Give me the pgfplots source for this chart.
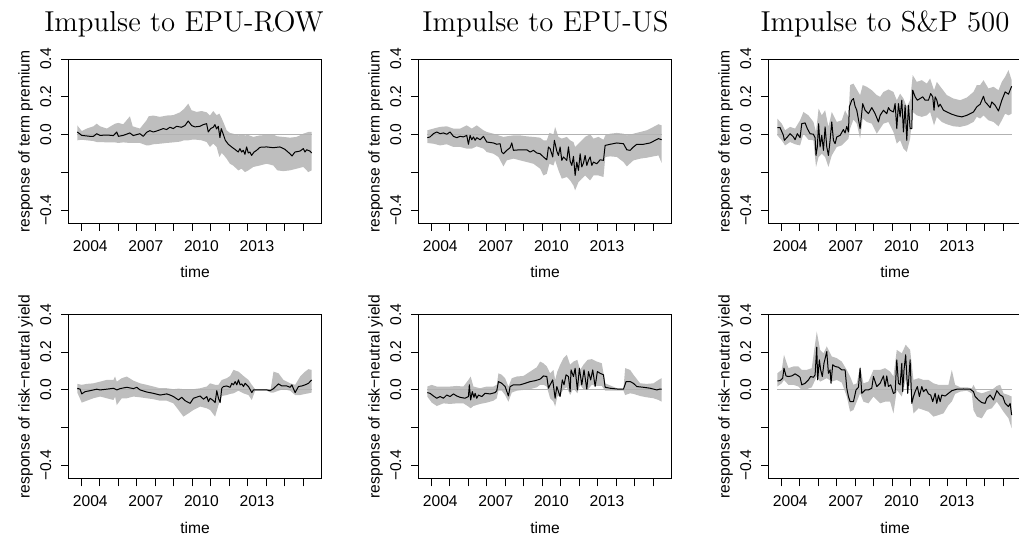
\documentclass[border=0pt]{standalone}
\usepackage{fontspec}
\setsansfont{Liberation Sans}
\usepackage{pgfplots}
\pgfplotsset{compat=1.18}
\usepackage{pgfplotstable}
\usepgfplotslibrary{fillbetween}
\definecolor{bandgray}{RGB}{190,190,190}
\definecolor{zerogray}{RGB}{178,178,178}

% ---------- Panel A: EPU-ROW -> term premium
\pgfplotstableread{
t m
2003.80 0.014
2004.04 -0.004
2004.31 -0.007
2004.49 -0.009
2004.67 -0.009
2004.85 0.005
2005.03 -0.004
2005.39 -0.002
2005.75 -0.005
2005.93 0.014
2006.02 -0.009
2006.28 -0.004
2006.64 0.009
2006.82 -0.005
2007.18 0.005
2007.36 -0.009
2007.54 0.012
2007.72 0.021
2007.90 0.014
2008.08 0.019
2008.44 0.032
2008.62 0.027
2008.80 0.039
2008.98 0.032
2009.16 0.044
2009.43 0.039
2009.61 0.048
2009.79 0.072
2009.97 0.048
2010.15 0.041
2010.42 0.044
2010.60 0.053
2010.78 0.058
2010.87 0.014
2011.00 0.032
2011.14 0.039
2011.23 0.053
2011.32 0.030
2011.41 0.044
2011.50 -0.016
2011.57 0.032
2011.68 0.002
2011.79 -0.030
2011.95 -0.051
2012.13 -0.065
2012.31 -0.078
2012.49 -0.092
2012.58 -0.074
2012.67 -0.092
2012.76 -0.083
2012.85 -0.104
2012.94 -0.065
2013.03 -0.097
2013.12 -0.092
2013.21 -0.110
2013.34 -0.092
2013.48 -0.083
2013.66 -0.067
2014.02 -0.065
2014.38 -0.069
2014.74 -0.065
2015.01 -0.078
2015.28 -0.101
2015.39 -0.113
2015.55 -0.092
2015.82 -0.087
2016.00 -0.074
2016.09 -0.092
2016.18 -0.080
2016.36 -0.087
2016.45 -0.097
}\meanA
\pgfplotstableread{
t lo hi
2003.80 -0.030 0.049
2004.04 -0.027 0.019
2004.31 -0.030 0.032
2004.67 -0.034 0.044
2004.85 -0.039 0.058
2005.03 -0.039 0.044
2005.39 -0.041 0.032
2005.84 -0.041 0.058
2006.02 -0.044 0.062
2006.28 -0.041 0.055
2006.64 -0.044 0.097
2006.79 -0.044 0.044
2007.18 -0.044 0.032
2007.54 -0.057 0.076
2007.65 -0.057 0.097
2007.90 -0.051 0.101
2008.26 -0.048 0.094
2008.62 -0.044 0.101
2008.98 -0.041 0.103
2009.34 -0.037 0.118
2009.56 -0.030 0.136
2009.79 -0.030 0.164
2009.97 -0.027 0.129
2010.24 -0.027 0.120
2010.51 -0.030 0.125
2010.78 -0.039 0.118
2010.96 -0.065 0.101
2011.14 -0.048 0.125
2011.32 -0.065 0.103
2011.47 -0.118 0.111
2011.60 -0.097 0.085
2011.72 -0.110 0.058
2011.86 -0.127 0.023
2012.04 -0.154 0.009
2012.22 -0.164 0.005
2012.49 -0.189 -0.004
2012.67 -0.180 0.002
2012.85 -0.198 -0.004
2013.03 -0.189 -0.002
2013.30 -0.171 -0.012
2013.66 -0.163 -0.004
2014.02 -0.154 -0.002
2014.38 -0.163 0.000
2014.60 -0.189 -0.009
2014.92 -0.193 -0.012
2015.28 -0.189 -0.016
2015.64 -0.180 -0.012
2016.00 -0.171 0.005
2016.27 -0.198 0.014
2016.45 -0.189 0.014
}\bandA

% ---------- Panel B: EPU-US -> term premium
\pgfplotstableread{
t m
2003.80 -0.016
2003.95 -0.012
2004.13 0.005
2004.31 0.014
2004.49 0.005
2004.67 0.009
2004.85 0.002
2005.03 0.014
2005.21 -0.009
2005.39 -0.016
2005.57 -0.009
2005.75 -0.012
2005.93 -0.004
2006.02 -0.051
2006.11 -0.004
2006.20 -0.027
2006.29 -0.012
2006.38 -0.030
2006.47 -0.016
2006.65 -0.027
2006.83 -0.009
2007.01 -0.039
2007.37 -0.044
2007.55 -0.051
2007.73 -0.048
2007.82 -0.092
2007.91 -0.101
2008.09 -0.083
2008.27 -0.069
2008.36 -0.044
2008.45 -0.083
2008.81 -0.080
2009.17 -0.080
2009.35 -0.092
2009.53 -0.083
2009.71 -0.097
2009.89 -0.101
2010.07 -0.118
2010.25 -0.133
2010.34 -0.065
2010.43 -0.074
2010.57 -0.118
2010.66 -0.030
2010.79 -0.087
2010.88 -0.110
2010.97 -0.065
2011.06 -0.136
2011.15 -0.118
2011.33 -0.136
2011.42 -0.065
2011.51 -0.140
2011.60 -0.163
2011.69 -0.115
2011.78 -0.216
2011.87 -0.145
2011.96 -0.189
2012.05 -0.101
2012.14 -0.171
2012.23 -0.150
2012.32 -0.110
2012.41 -0.163
2012.50 -0.136
2012.59 -0.118
2012.68 -0.163
2012.77 -0.145
2012.95 -0.154
2013.13 -0.133
2013.31 -0.136
2013.40 -0.057
2013.67 -0.051
2014.03 -0.044
2014.39 -0.048
2014.57 -0.080
2014.75 -0.083
2014.93 -0.065
2015.11 -0.051
2015.47 -0.051
2015.83 -0.044
2016.10 -0.030
2016.28 -0.021
2016.45 -0.027
}\meanB
\pgfplotstableread{
t lo hi
2003.80 -0.044 0.023
2004.13 -0.048 0.032
2004.49 -0.057 0.041
2004.85 -0.051 0.044
2005.21 -0.065 0.032
2005.57 -0.065 0.032
2005.93 -0.074 0.049
2006.20 -0.074 0.032
2006.47 -0.062 0.049
2006.83 -0.074 0.023
2007.01 -0.092 0.014
2007.37 -0.101 0.005
2007.64 -0.118 -0.004
2007.91 -0.168 -0.012
2008.09 -0.136 -0.009
2008.45 -0.127 -0.004
2008.81 -0.136 -0.004
2009.17 -0.145 -0.009
2009.53 -0.154 -0.012
2009.89 -0.180 -0.016
2010.07 -0.216 -0.030
2010.25 -0.207 -0.030
2010.39 -0.154 0.009
2010.61 -0.163 0.002
2010.70 -0.136 0.041
2010.88 -0.189 -0.012
2011.06 -0.233 -0.021
2011.33 -0.224 -0.012
2011.51 -0.242 -0.030
2011.69 -0.269 -0.039
2011.78 -0.295 -0.065
2011.96 -0.251 -0.048
2012.14 -0.233 -0.030
2012.32 -0.216 -0.012
2012.59 -0.242 0.002
2012.77 -0.216 -0.021
2013.04 -0.216 -0.012
2013.31 -0.224 -0.027
2013.41 -0.118 -0.004
2013.67 -0.115 0.005
2014.03 -0.118 0.009
2014.39 -0.145 0.005
2014.57 -0.168 -0.004
2014.93 -0.136 0.005
2015.29 -0.127 0.014
2015.65 -0.122 0.023
2016.01 -0.115 0.041
2016.28 -0.110 0.055
2016.45 -0.150 0.049
}\bandB

% ---------- Panel C: S&P 500 -> term premium
\pgfplotstableread{
t m
2003.80 0.037
2003.95 0.037
2004.13 -0.004
2004.18 -0.030
2004.31 -0.016
2004.49 0.005
2004.67 -0.012
2004.76 -0.027
2004.88 0.005
2005.03 -0.016
2005.12 0.058
2005.30 0.062
2005.42 0.032
2005.57 0.005
2005.75 0.002
2005.84 -0.016
2005.89 -0.110
2005.96 -0.065
2006.03 0.058
2006.11 -0.065
2006.20 -0.004
2006.29 -0.083
2006.38 0.041
2006.47 -0.065
2006.56 -0.110
2006.65 -0.030
2006.74 0.067
2006.83 -0.030
2006.92 -0.048
2007.01 -0.012
2007.19 -0.004
2007.37 0.027
2007.46 0.009
2007.55 0.044
2007.64 0.014
2007.69 0.147
2007.82 0.182
2007.91 0.191
2008.00 0.150
2008.09 0.129
2008.27 0.032
2008.41 0.164
2008.54 0.129
2008.72 0.111
2008.90 0.143
2009.08 0.111
2009.26 0.067
2009.35 0.102
2009.53 0.129
2009.71 0.111
2009.80 0.143
2009.89 0.129
2010.07 0.120
2010.16 0.164
2010.25 0.032
2010.34 0.164
2010.43 0.094
2010.52 0.182
2010.61 0.014
2010.70 0.155
2010.79 -0.030
2010.88 0.155
2010.97 0.032
2011.06 0.032
2011.11 0.235
2011.24 0.200
2011.36 0.182
2011.51 0.191
2011.65 0.200
2011.78 0.182
2011.96 0.182
2012.08 0.217
2012.19 0.200
2012.26 0.129
2012.32 0.200
2012.41 0.182
2012.50 0.147
2012.59 0.161
2012.77 0.129
2012.95 0.120
2013.22 0.108
2013.49 0.099
2013.76 0.094
2014.03 0.102
2014.21 0.111
2014.39 0.120
2014.57 0.147
2014.75 0.161
2014.93 0.203
2015.02 0.173
2015.11 0.164
2015.29 0.143
2015.38 0.173
2015.56 0.155
2015.74 0.125
2015.92 0.182
2016.10 0.226
2016.28 0.214
2016.45 0.256
}\meanC
\pgfplotstableread{
t lo hi
2003.80 -0.004 0.085
2004.04 -0.030 0.058
2004.22 -0.057 0.023
2004.49 -0.039 0.041
2004.76 -0.051 0.032
2005.03 -0.057 0.076
2005.21 0.005 0.120
2005.48 -0.027 0.102
2005.75 -0.030 0.067
2005.89 -0.171 0.014
2006.03 -0.118 0.138
2006.20 -0.101 0.102
2006.38 -0.118 0.129
2006.56 -0.171 0.041
2006.74 -0.110 0.120
2007.01 -0.065 0.067
2007.28 -0.057 0.076
2007.46 -0.039 0.129
2007.64 -0.021 0.094
2007.73 0.032 0.262
2007.91 0.080 0.270
2008.09 0.058 0.239
2008.27 -0.021 0.209
2008.41 0.085 0.262
2008.63 0.067 0.253
2008.90 0.058 0.235
2009.17 0.005 0.209
2009.35 0.032 0.200
2009.53 0.058 0.226
2009.80 0.067 0.239
2010.07 0.014 0.226
2010.25 -0.048 0.182
2010.43 -0.030 0.217
2010.61 -0.074 0.191
2010.79 -0.092 0.147
2010.97 -0.021 0.182
2011.11 0.120 0.315
2011.33 0.102 0.279
2011.60 0.094 0.288
2011.87 0.102 0.270
2012.05 0.120 0.297
2012.26 0.049 0.235
2012.41 0.094 0.279
2012.68 0.067 0.244
2012.95 0.055 0.209
2013.31 0.044 0.191
2013.67 0.041 0.182
2014.03 0.049 0.196
2014.39 0.067 0.226
2014.57 0.094 0.262
2014.75 0.085 0.262
2014.93 0.102 0.288
2015.20 0.076 0.244
2015.47 0.067 0.253
2015.74 0.044 0.235
2015.92 0.076 0.279
2016.10 0.111 0.306
2016.28 0.102 0.341
2016.45 0.111 0.288
}\bandC

% ---------- Panel D: EPU-ROW -> risk-neutral yield
\pgfplotstableread{
t m
2003.80 0.009
2003.95 0.004
2004.04 -0.021
2004.22 -0.009
2004.49 -0.004
2004.85 0.004
2005.03 0.000
2005.39 0.004
2005.75 0.009
2005.93 0.000
2006.11 0.007
2006.47 0.014
2006.83 0.007
2007.01 0.014
2007.19 0.000
2007.55 -0.011
2007.91 -0.018
2008.27 -0.027
2008.63 -0.021
2008.81 -0.027
2008.99 -0.035
2009.26 -0.053
2009.44 -0.039
2009.62 -0.057
2009.89 -0.071
2010.07 -0.044
2010.43 -0.032
2010.61 -0.049
2010.79 -0.035
2010.88 -0.062
2010.97 -0.044
2011.15 -0.057
2011.24 -0.067
2011.33 -0.004
2011.42 -0.044
2011.51 -0.067
2011.60 0.009
2011.69 0.018
2011.87 0.021
2012.05 0.014
2012.14 0.035
2012.23 0.027
2012.32 0.044
2012.41 0.027
2012.50 0.053
2012.59 0.027
2012.68 0.032
2012.77 0.018
2012.86 0.035
2013.04 0.018
2013.22 -0.014
2013.31 0.000
2013.58 0.000
2014.03 0.000
2014.21 -0.004
2014.39 0.007
2014.66 0.032
2014.84 0.021
2015.11 0.021
2015.29 0.014
2015.38 0.027
2015.56 -0.014
2015.74 0.018
2015.92 0.021
2016.10 0.027
2016.28 0.035
2016.45 0.053
}\meanD
\pgfplotstableread{
t lo hi
2003.80 -0.014 0.032
2004.04 -0.067 0.027
2004.31 -0.057 0.032
2004.67 -0.044 0.035
2005.03 -0.035 0.044
2005.39 -0.044 0.053
2005.75 -0.053 0.053
2005.84 -0.035 0.071
2005.93 -0.080 0.044
2006.20 -0.044 0.062
2006.47 -0.044 0.071
2006.83 -0.035 0.049
2007.19 -0.039 0.035
2007.55 -0.044 0.027
2007.91 -0.049 0.018
2008.27 -0.057 0.009
2008.63 -0.057 0.009
2008.99 -0.071 0.004
2009.26 -0.106 0.007
2009.53 -0.141 0.004
2009.80 -0.124 0.000
2010.07 -0.106 0.004
2010.43 -0.088 0.009
2010.79 -0.097 0.018
2010.97 -0.106 0.035
2011.24 -0.141 0.027
2011.42 -0.080 0.027
2011.60 -0.032 0.053
2011.87 -0.027 0.062
2012.05 -0.021 0.074
2012.23 -0.018 0.106
2012.50 -0.004 0.097
2012.77 -0.018 0.074
2013.04 -0.027 0.053
2013.22 -0.053 0.027
2013.40 -0.004 0.004
2013.67 -0.004 0.004
2014.03 -0.004 0.004
2014.24 -0.014 0.004
2014.39 -0.014 0.097
2014.66 -0.004 0.088
2014.93 0.004 0.053
2015.29 -0.004 0.035
2015.56 -0.027 0.027
2015.83 -0.027 0.071
2016.10 -0.021 0.097
2016.28 -0.018 0.110
2016.45 -0.014 0.106
}\bandD

% ---------- Panel E: EPU-US -> risk-neutral yield
\pgfplotstableread{
t m
2003.80 -0.014
2003.95 -0.018
2004.13 -0.032
2004.31 -0.044
2004.49 -0.035
2004.67 -0.044
2004.85 -0.027
2005.03 -0.035
2005.21 -0.021
2005.39 -0.032
2005.57 -0.039
2005.84 -0.044
2006.02 -0.035
2006.07 0.027
2006.14 -0.053
2006.23 -0.009
2006.32 -0.039
2006.38 -0.018
2006.47 -0.044
2006.56 -0.027
2006.74 -0.035
2006.92 -0.018
2007.19 -0.021
2007.46 -0.014
2007.55 -0.004
2007.64 0.044
2007.82 0.035
2008.00 0.018
2008.18 -0.032
2008.27 0.018
2008.45 0.027
2008.81 0.027
2009.08 0.035
2009.35 0.044
2009.62 0.049
2009.89 0.057
2010.07 0.074
2010.25 0.071
2010.34 0.009
2010.43 0.027
2010.57 0.053
2010.70 -0.044
2010.79 0.018
2010.97 -0.035
2011.09 0.053
2011.18 0.027
2011.29 0.080
2011.42 0.071
2011.51 -0.009
2011.56 0.106
2011.69 0.071
2011.78 0.115
2011.90 0.000
2012.01 0.115
2012.14 0.027
2012.26 0.106
2012.41 0.004
2012.50 0.097
2012.62 0.053
2012.73 0.106
2012.86 0.018
2012.98 0.097
2013.13 0.088
2013.31 0.080
2013.40 0.014
2013.67 0.009
2014.03 0.005
2014.39 0.004
2014.53 0.044
2014.75 0.044
2014.93 0.035
2015.11 0.018
2015.47 0.014
2015.83 0.009
2016.19 0.000
2016.33 0.004
2016.45 0.004
}\meanE
\pgfplotstableread{
t lo hi
2003.80 -0.035 0.018
2004.04 -0.067 0.027
2004.31 -0.085 0.018
2004.67 -0.071 0.018
2005.03 -0.074 0.018
2005.39 -0.071 0.021
2005.75 -0.071 0.018
2006.02 -0.088 0.053
2006.14 -0.097 0.071
2006.29 -0.085 0.018
2006.65 -0.074 0.009
2007.01 -0.067 0.018
2007.37 -0.057 0.018
2007.55 -0.044 0.027
2007.64 -0.004 0.088
2007.82 -0.004 0.080
2008.00 -0.027 0.062
2008.18 -0.062 0.018
2008.36 -0.014 0.062
2008.63 -0.004 0.071
2008.99 0.000 0.074
2009.35 0.004 0.097
2009.71 0.014 0.120
2009.89 0.027 0.150
2010.07 0.027 0.141
2010.25 0.018 0.124
2010.43 -0.044 0.088
2010.61 -0.062 0.106
2010.70 -0.088 0.053
2010.82 -0.035 0.097
2010.97 -0.027 0.133
2011.15 0.004 0.168
2011.33 0.014 0.186
2011.51 -0.027 0.133
2011.69 0.009 0.150
2011.90 -0.018 0.159
2012.05 0.027 0.106
2012.23 0.004 0.133
2012.45 0.000 0.159
2012.68 0.027 0.163
2012.95 0.021 0.150
2013.22 0.021 0.141
2013.40 -0.004 0.035
2014.03 -0.004 0.009
2014.39 -0.004 0.007
2014.48 -0.027 0.115
2014.75 -0.018 0.106
2014.93 -0.021 0.080
2015.29 -0.032 0.035
2015.65 -0.039 0.032
2016.01 -0.044 0.035
2016.28 -0.053 0.053
2016.45 -0.062 0.062
}\bandE

% ---------- Panel F: S&P 500 -> risk-neutral yield
\pgfplotstableread{
t m
2003.80 0.048
2003.95 0.049
2004.09 0.062
2004.16 0.115
2004.27 0.074
2004.40 0.071
2004.58 0.074
2004.76 0.085
2004.94 0.074
2005.03 0.067
2005.12 0.027
2005.30 0.035
2005.48 0.053
2005.60 0.071
2005.75 0.067
2005.84 0.080
2005.93 0.226
2005.98 0.053
2006.07 0.159
2006.14 0.106
2006.23 0.071
2006.32 0.141
2006.47 0.203
2006.56 0.088
2006.65 0.106
2006.70 0.035
2006.79 0.133
2006.92 0.124
2007.10 0.120
2007.28 0.106
2007.46 0.106
2007.55 0.009
2007.64 -0.035
2007.73 -0.062
2007.91 -0.062
2008.05 0.000
2008.18 0.014
2008.27 0.115
2008.36 -0.018
2008.54 0.000
2008.72 0.000
2008.90 0.009
2008.99 0.071
2009.17 0.018
2009.35 0.035
2009.53 0.074
2009.62 0.018
2009.71 0.074
2009.80 0.018
2009.92 0.027
2010.07 -0.018
2010.16 -0.014
2010.25 0.159
2010.34 0.035
2010.43 0.027
2010.52 0.141
2010.57 -0.009
2010.64 0.106
2010.73 0.186
2010.84 -0.018
2010.97 0.159
2011.06 -0.071
2011.15 -0.035
2011.24 -0.009
2011.36 0.018
2011.47 -0.035
2011.60 0.018
2011.69 -0.009
2011.83 0.004
2011.96 -0.021
2012.08 -0.027
2012.19 -0.062
2012.32 -0.018
2012.41 -0.071
2012.50 -0.027
2012.59 -0.062
2012.68 -0.027
2012.86 -0.032
2013.04 -0.018
2013.22 -0.004
2013.49 0.004
2013.85 0.005
2014.21 0.004
2014.39 -0.009
2014.48 -0.035
2014.66 -0.053
2014.84 -0.067
2015.02 -0.071
2015.11 -0.044
2015.29 -0.027
2015.47 -0.053
2015.65 -0.004
2015.83 -0.027
2015.97 -0.035
2016.10 -0.071
2016.28 -0.088
2016.37 -0.071
2016.45 -0.133
}\meanF
\pgfplotstableread{
t lo hi
2003.80 0.018 0.088
2004.04 0.035 0.106
2004.16 0.053 0.186
2004.40 0.027 0.115
2004.67 0.027 0.124
2004.94 0.018 0.124
2005.12 0.000 0.106
2005.39 0.004 0.106
2005.66 0.014 0.115
2005.93 0.071 0.309
2006.11 0.044 0.212
2006.29 0.053 0.194
2006.47 0.062 0.230
2006.74 0.044 0.177
2007.01 0.053 0.168
2007.28 0.039 0.150
2007.55 -0.035 0.106
2007.73 -0.115 0.071
2007.91 -0.106 0.027
2008.09 -0.062 0.035
2008.27 -0.018 0.124
2008.45 -0.062 0.035
2008.72 -0.071 0.044
2008.99 -0.035 0.106
2009.35 -0.071 0.106
2009.62 -0.062 0.115
2009.89 -0.062 0.097
2010.07 -0.124 0.071
2010.25 0.000 0.212
2010.52 -0.035 0.194
2010.73 0.053 0.239
2010.97 0.018 0.212
2011.15 -0.124 0.053
2011.42 -0.097 0.062
2011.69 -0.106 0.053
2011.96 -0.115 0.053
2012.23 -0.141 0.035
2012.50 -0.133 0.027
2012.77 -0.124 0.027
2013.04 -0.080 0.027
2013.22 -0.062 0.106
2013.40 -0.021 0.027
2013.67 -0.009 0.014
2014.03 -0.004 0.014
2014.30 -0.018 0.009
2014.39 -0.106 0.027
2014.57 -0.141 -0.009
2014.84 -0.150 -0.018
2015.11 -0.106 -0.009
2015.38 -0.097 0.000
2015.65 -0.062 0.021
2015.83 -0.088 0.027
2016.01 -0.115 -0.018
2016.28 -0.150 -0.027
2016.45 -0.203 -0.035
}\bandF

\newcommand{\sfs}{\sffamily\fontsize{7.8}{9}\selectfont}
\newcommand{\ttl}{\rmfamily\fontsize{14.4}{16}\selectfont}
\pgfplotsset{
  rpanel/.style={
    scale only axis, width=126.7pt, height=82.35pt,
    xmin=2003.314, xmax=2016.993, ymin=-0.471, ymax=0.4,
    axis line style={line width=0.5pt},
    tick style={line width=0.5pt, black},
    tick align=outside,
    major tick length=3.65pt, minor tick length=3.65pt,
    xtick pos=left, ytick pos=left,
    xtick={2004.5,2007.5,2010.5,2013.5},
    xticklabels={2004,2007,2010,2013},
    major x tick style={draw=none},
    minor xtick={2004,2005,...,2016},
    ytick={-0.4,-0.2,0,0.2,0.4},
    yticklabels={−0.4,,0.0,0.2,0.4},
    ticklabel style={font=\sfs, inner sep=0pt},
    xticklabel style={anchor=north},
    yticklabel style={rotate=90, anchor=south},
    xticklabel shift=4.65pt, yticklabel shift=4.65pt,
    label style={font=\sfs},
    xlabel={time},
    xlabel style={at={(axis description cs:0.5,-0.3297)}, anchor=base, inner sep=0pt},
    ylabel style={at={(axis description cs:-0.1523,0.5)}, anchor=base, inner sep=0pt},
    clip mode=individual,
  },
  band/.style={fill=bandgray, draw=none, forget plot},
  zline/.style={zerogray, line width=0.5pt, forget plot},
  mline/.style={black, line width=0.5pt, line join=round, forget plot},
}

\begin{document}
\begin{tikzpicture}[x=1pt,y=1pt]
% ---- row 1
\begin{axis}[rpanel, at={(34.15pt,156.15pt)}, anchor=south west,
  ylabel={response of term premium}]
  \addplot[draw=none, forget plot, name path=uA] table[x=t,y=hi]{\bandA};
  \addplot[draw=none, forget plot, name path=lA] table[x=t,y=lo]{\bandA};
  \addplot[band] fill between[of=uA and lA];
  \addplot[zline] coordinates {(2003.80,0) (2016.45,0)};
  \addplot[mline] table[x=t,y=m]{\meanA};
  \node[font=\ttl, anchor=base, inner sep=0pt] at (rel axis cs:0.4566,1.1658) {Impulse to EPU-ROW};
\end{axis}
\begin{axis}[rpanel, at={(209.15pt,156.15pt)}, anchor=south west,
  ylabel={response of term premium}]
  \addplot[draw=none, forget plot, name path=uB] table[x=t,y=hi]{\bandB};
  \addplot[draw=none, forget plot, name path=lB] table[x=t,y=lo]{\bandB};
  \addplot[band] fill between[of=uB and lB];
  \addplot[zline] coordinates {(2003.80,0) (2016.45,0)};
  \addplot[mline] table[x=t,y=m]{\meanB};
  \node[font=\ttl, anchor=base, inner sep=0pt] at (rel axis cs:0.502,1.1658) {Impulse to EPU-US};
\end{axis}
\begin{axis}[rpanel, at={(384.15pt,156.15pt)}, anchor=south west,
  ylabel={response of term premium}]
  \addplot[draw=none, forget plot, name path=uC] table[x=t,y=hi]{\bandC};
  \addplot[draw=none, forget plot, name path=lC] table[x=t,y=lo]{\bandC};
  \addplot[band] fill between[of=uC and lC];
  \addplot[zline] coordinates {(2003.80,0) (2016.45,0)};
  \addplot[mline] table[x=t,y=m]{\meanC};
  \node[font=\ttl, anchor=base, inner sep=0pt] at (rel axis cs:0.4605,1.1658) {Impulse to S\&P 500};
\end{axis}
% ---- row 2
\begin{axis}[rpanel, at={(34.15pt,28.5pt)}, anchor=south west,
  ylabel={response of risk−neutral yield}]
  \addplot[draw=none, forget plot, name path=uD] table[x=t,y=hi]{\bandD};
  \addplot[draw=none, forget plot, name path=lD] table[x=t,y=lo]{\bandD};
  \addplot[band] fill between[of=uD and lD];
  \addplot[zline] coordinates {(2003.80,0) (2016.45,0)};
  \addplot[mline] table[x=t,y=m]{\meanD};
\end{axis}
\begin{axis}[rpanel, at={(209.15pt,28.5pt)}, anchor=south west,
  ylabel={response of risk−neutral yield}]
  \addplot[draw=none, forget plot, name path=uE] table[x=t,y=hi]{\bandE};
  \addplot[draw=none, forget plot, name path=lE] table[x=t,y=lo]{\bandE};
  \addplot[band] fill between[of=uE and lE];
  \addplot[zline] coordinates {(2003.80,0) (2016.45,0)};
  \addplot[mline] table[x=t,y=m]{\meanE};
\end{axis}
\begin{axis}[rpanel, at={(384.15pt,28.5pt)}, anchor=south west,
  ylabel={response of risk−neutral yield}]
  \addplot[draw=none, forget plot, name path=uF] table[x=t,y=hi]{\bandF};
  \addplot[draw=none, forget plot, name path=lF] table[x=t,y=lo]{\bandF};
  \addplot[band] fill between[of=uF and lF];
  \addplot[zline] coordinates {(2003.80,0) (2016.45,0)};
  \addplot[mline] table[x=t,y=m]{\meanF};
\end{axis}
\pgfresetboundingbox
\path[use as bounding box] (0,0) rectangle (509.5pt,268pt);
\end{tikzpicture}
\end{document}
